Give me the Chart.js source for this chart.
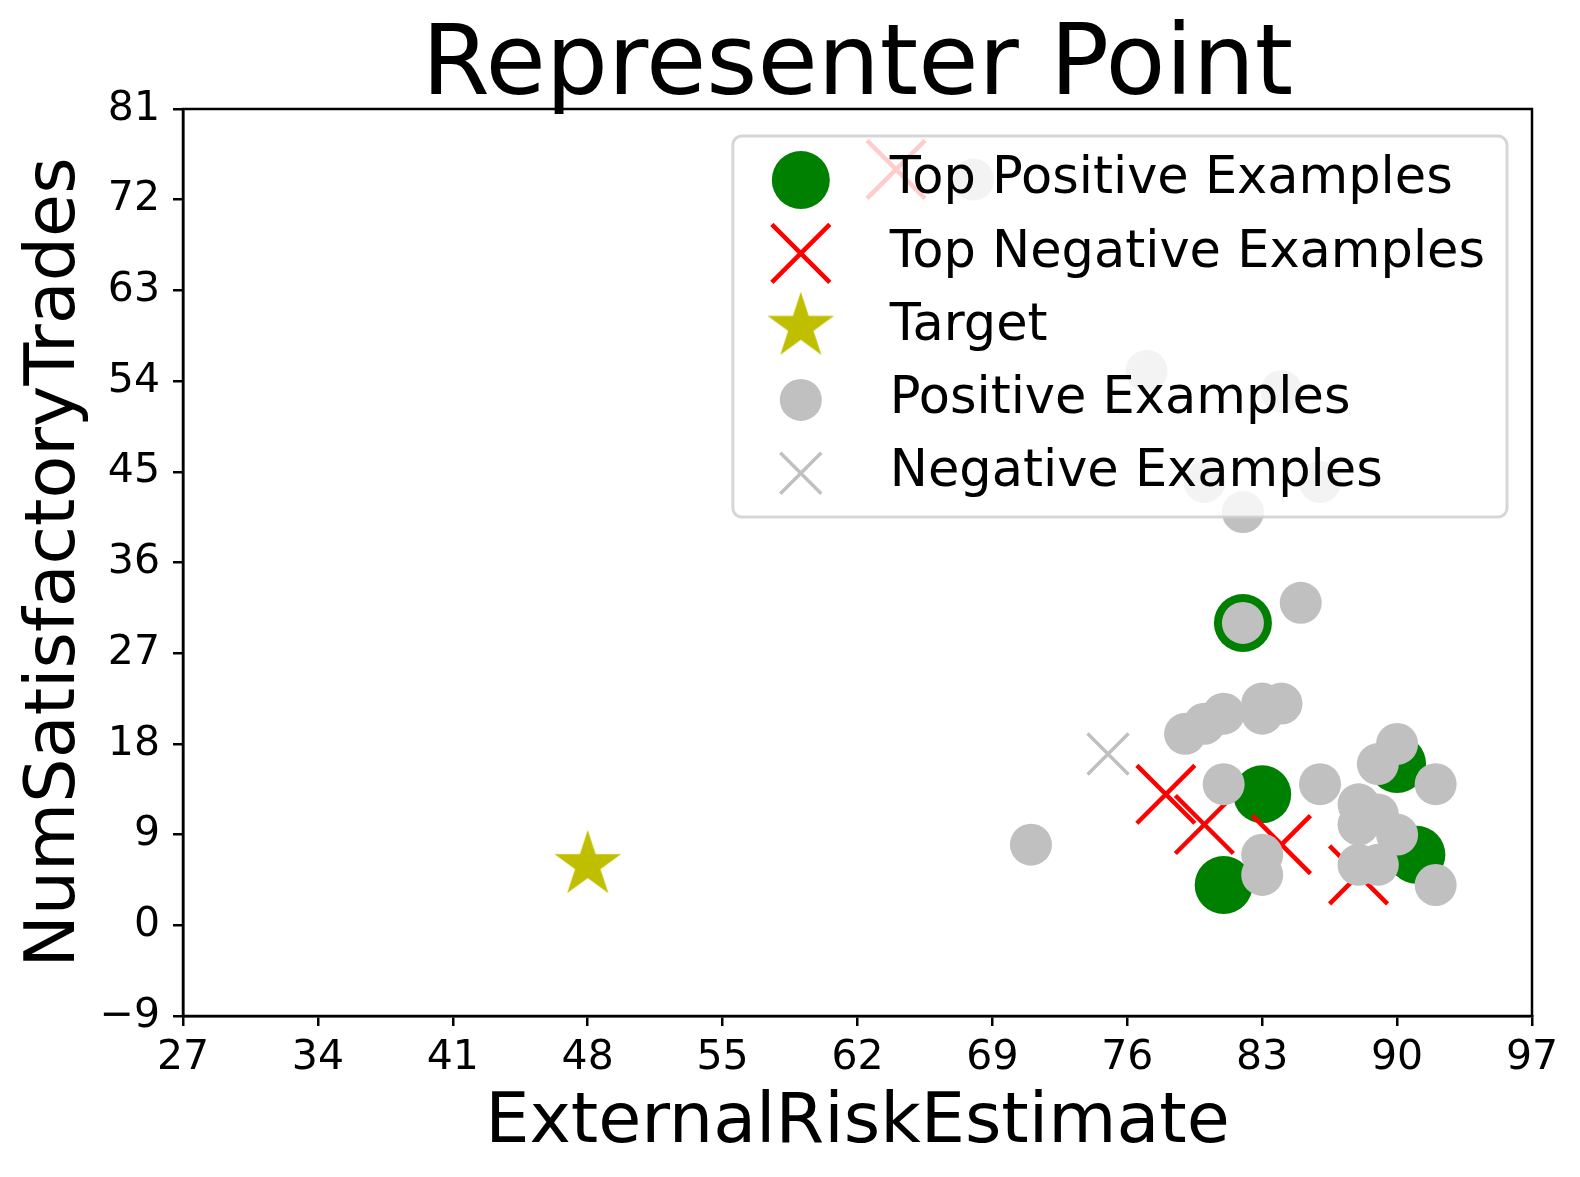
<!DOCTYPE html>
<html>
<head>
<meta charset="utf-8">
<script src="https://cdn.jsdelivr.net/npm/chart.js@4.4.1/dist/chart.umd.min.js"></script>
<style>
  html, body { margin: 0; padding: 0; background: #fff; }
  #wrap { width: 1580px; height: 1177px; }
</style>
</head>
<body>
<div id="wrap"><canvas id="chart" width="1580" height="1177"></canvas></div>
<script>
// data
const topPosX = [82, 83, 81, 90, 91];
const topPosY = [30, 13, 4, 16, 7];

const topNegX = [64, 78, 80, 84, 88];
const topNegY = [75, 13, 10, 8, 5];

const targetX = [48];
const targetY = [6];

const posX = [68, 77, 84, 80, 86, 82, 82, 85, 79, 80, 81, 83, 83, 84, 81, 86, 83, 83, 71, 90, 89, 92, 88, 89, 88, 90, 88, 89, 92];
const posY = [74, 55, 53, 44, 44, 41, 30, 32, 19, 20, 21, 22, 21, 22, 14, 14, 7, 5, 8, 18, 16, 14, 12, 11, 10, 9, 6, 6, 4];

const negX = [75];
const negY = [17];

const xTicks = [27, 97, 7];   // min, max, step
const yTicks = [-9, 81, 9];

const FONT = "'DejaVu Sans', sans-serif";

const pts = (xs, ys) => xs.map((x, i) => ({ x: x, y: ys[i] }));

// filled five point star, matplotlib style
function makeStar(R, color) {
    const c = document.createElement('canvas');
    const s = Math.ceil(R * 2 + 4);
    c.width = s; c.height = s;
    const g = c.getContext('2d');
    g.fillStyle = color;
    g.beginPath();
    for (let i = 0; i < 10; i++) {
        const a = -Math.PI / 2 + i * Math.PI / 5;
        const r = i % 2 === 0 ? R : R * 0.381966;
        const px = s / 2 + r * Math.cos(a), py = s / 2 + r * Math.sin(a);
        i === 0 ? g.moveTo(px, py) : g.lineTo(px, py);
    }
    g.closePath();
    g.fill();
    return c;
}
const starImg = makeStar(35, '#bfbf00');

// frame + legend drawn over the points, like matplotlib
const frameLegend = {
    id: 'frameLegend',
    afterDatasetsDraw(chart) {
        const { ctx, chartArea: a } = chart;
        ctx.save();
        ctx.strokeStyle = '#000';
        ctx.lineWidth = 2.5;
        ctx.strokeRect(a.left, a.top, a.right - a.left, a.bottom - a.top);

        ctx.font = '51px ' + FONT;
        const sets = chart.data.datasets;
        const maxW = Math.max(...sets.map(d => ctx.measureText(d.label).width));
        const w = 157 + maxW + 22;
        const right = a.right - 25;
        const left = right - w;
        const top = a.top + 27;
        const h = 381;

        ctx.beginPath();
        ctx.roundRect(left, top, w, h, 9);
        ctx.fillStyle = 'rgba(255,255,255,0.8)';
        ctx.fill();
        ctx.strokeStyle = 'rgba(204,204,204,0.8)';
        ctx.lineWidth = 3;
        ctx.stroke();

        sets.forEach((d, i) => {
            const cy = top + 44 + i * 73.3;
            const cx = left + 68;
            ctx.fillStyle = d.backgroundColor;
            ctx.strokeStyle = d.borderColor;
            ctx.lineWidth = d.borderWidth;
            Chart.helpers.drawPoint(ctx, {
                pointStyle: d.pointStyle, radius: d.pointRadius,
                borderWidth: d.borderWidth, rotation: 0
            }, cx, cy);
            ctx.fillStyle = '#000';
            ctx.textAlign = 'left';
            ctx.textBaseline = 'middle';
            ctx.fillText(d.label, left + 157, cy);
        });
        ctx.restore();
    }
};

new Chart(document.getElementById('chart'), {
    type: 'scatter',
    data: {
        datasets: [
            {
                label: 'Top Positive Examples', data: pts(topPosX, topPosY),
                pointStyle: 'circle', pointRadius: 29, borderWidth: 0,
                backgroundColor: '#008000', borderColor: '#008000', order: 3
            },
            {
                label: 'Top Negative Examples', data: pts(topNegX, topNegY),
                pointStyle: 'crossRot', pointRadius: 41, borderWidth: 4.5,
                backgroundColor: '#ff0000', borderColor: '#ff0000', order: 2
            },
            {
                label: 'Target', data: pts(targetX, targetY),
                pointStyle: starImg, pointRadius: 35, borderWidth: 0,
                backgroundColor: '#bfbf00', borderColor: '#bfbf00', order: 4
            },
            {
                label: 'Positive Examples', data: pts(posX, posY),
                pointStyle: 'circle', pointRadius: 21, borderWidth: 0,
                backgroundColor: '#c0c0c0', borderColor: '#c0c0c0', order: 0
            },
            {
                label: 'Negative Examples', data: pts(negX, negY),
                pointStyle: 'crossRot', pointRadius: 29, borderWidth: 3.5,
                backgroundColor: '#c0c0c0', borderColor: '#c0c0c0', order: 1
            }
        ]
    },
    options: {
        responsive: false, animation: false, devicePixelRatio: 1,
        layout: { padding: { left: 0, right: 48, top: 0, bottom: 0 } },
        plugins: {
            legend: { display: false },
            tooltip: { enabled: false },
            title: {
                display: true, text: 'Representer Point', color: '#000',
                fullSize: false,
                font: { family: FONT, size: 98, weight: 'normal', lineHeight: 0.8 },
                padding: { top: 29, bottom: 1.6 }
            }
        },
        scales: {
            x: {
                type: 'linear', min: xTicks[0], max: xTicks[1],
                afterFit: s => { s.height = 161; },
                ticks: { stepSize: xTicks[2], color: '#000', padding: 8, font: { family: FONT, size: 41 } },
                grid: { drawOnChartArea: false, drawTicks: true, tickLength: 10, color: '#000', lineWidth: 2.5 },
                border: { display: true, color: '#000', width: 2.5 },
                title: {
                    display: true, text: 'ExternalRiskEstimate', color: '#000',
                    font: { family: FONT, size: 70 }, padding: { top: 0, bottom: 11 }
                }
            },
            y: {
                type: 'linear', min: yTicks[0], max: yTicks[1],
                afterFit: s => { s.width = 183; },
                ticks: {
                    stepSize: yTicks[2], color: '#000', padding: 13, font: { family: FONT, size: 41 },
                    callback: v => v < 0 ? '\u2212' + Math.abs(v) : String(v)
                },
                grid: { drawOnChartArea: false, drawTicks: true, tickLength: 10, color: '#000', lineWidth: 2.5 },
                border: { display: true, color: '#000', width: 2.5 },
                title: {
                    display: true, text: 'NumSatisfactoryTrades', color: '#000',
                    font: { family: FONT, size: 70 }, padding: { top: 14, bottom: 0 }
                }
            }
        }
    },
    plugins: [frameLegend]
});
</script>
</body>
</html>
